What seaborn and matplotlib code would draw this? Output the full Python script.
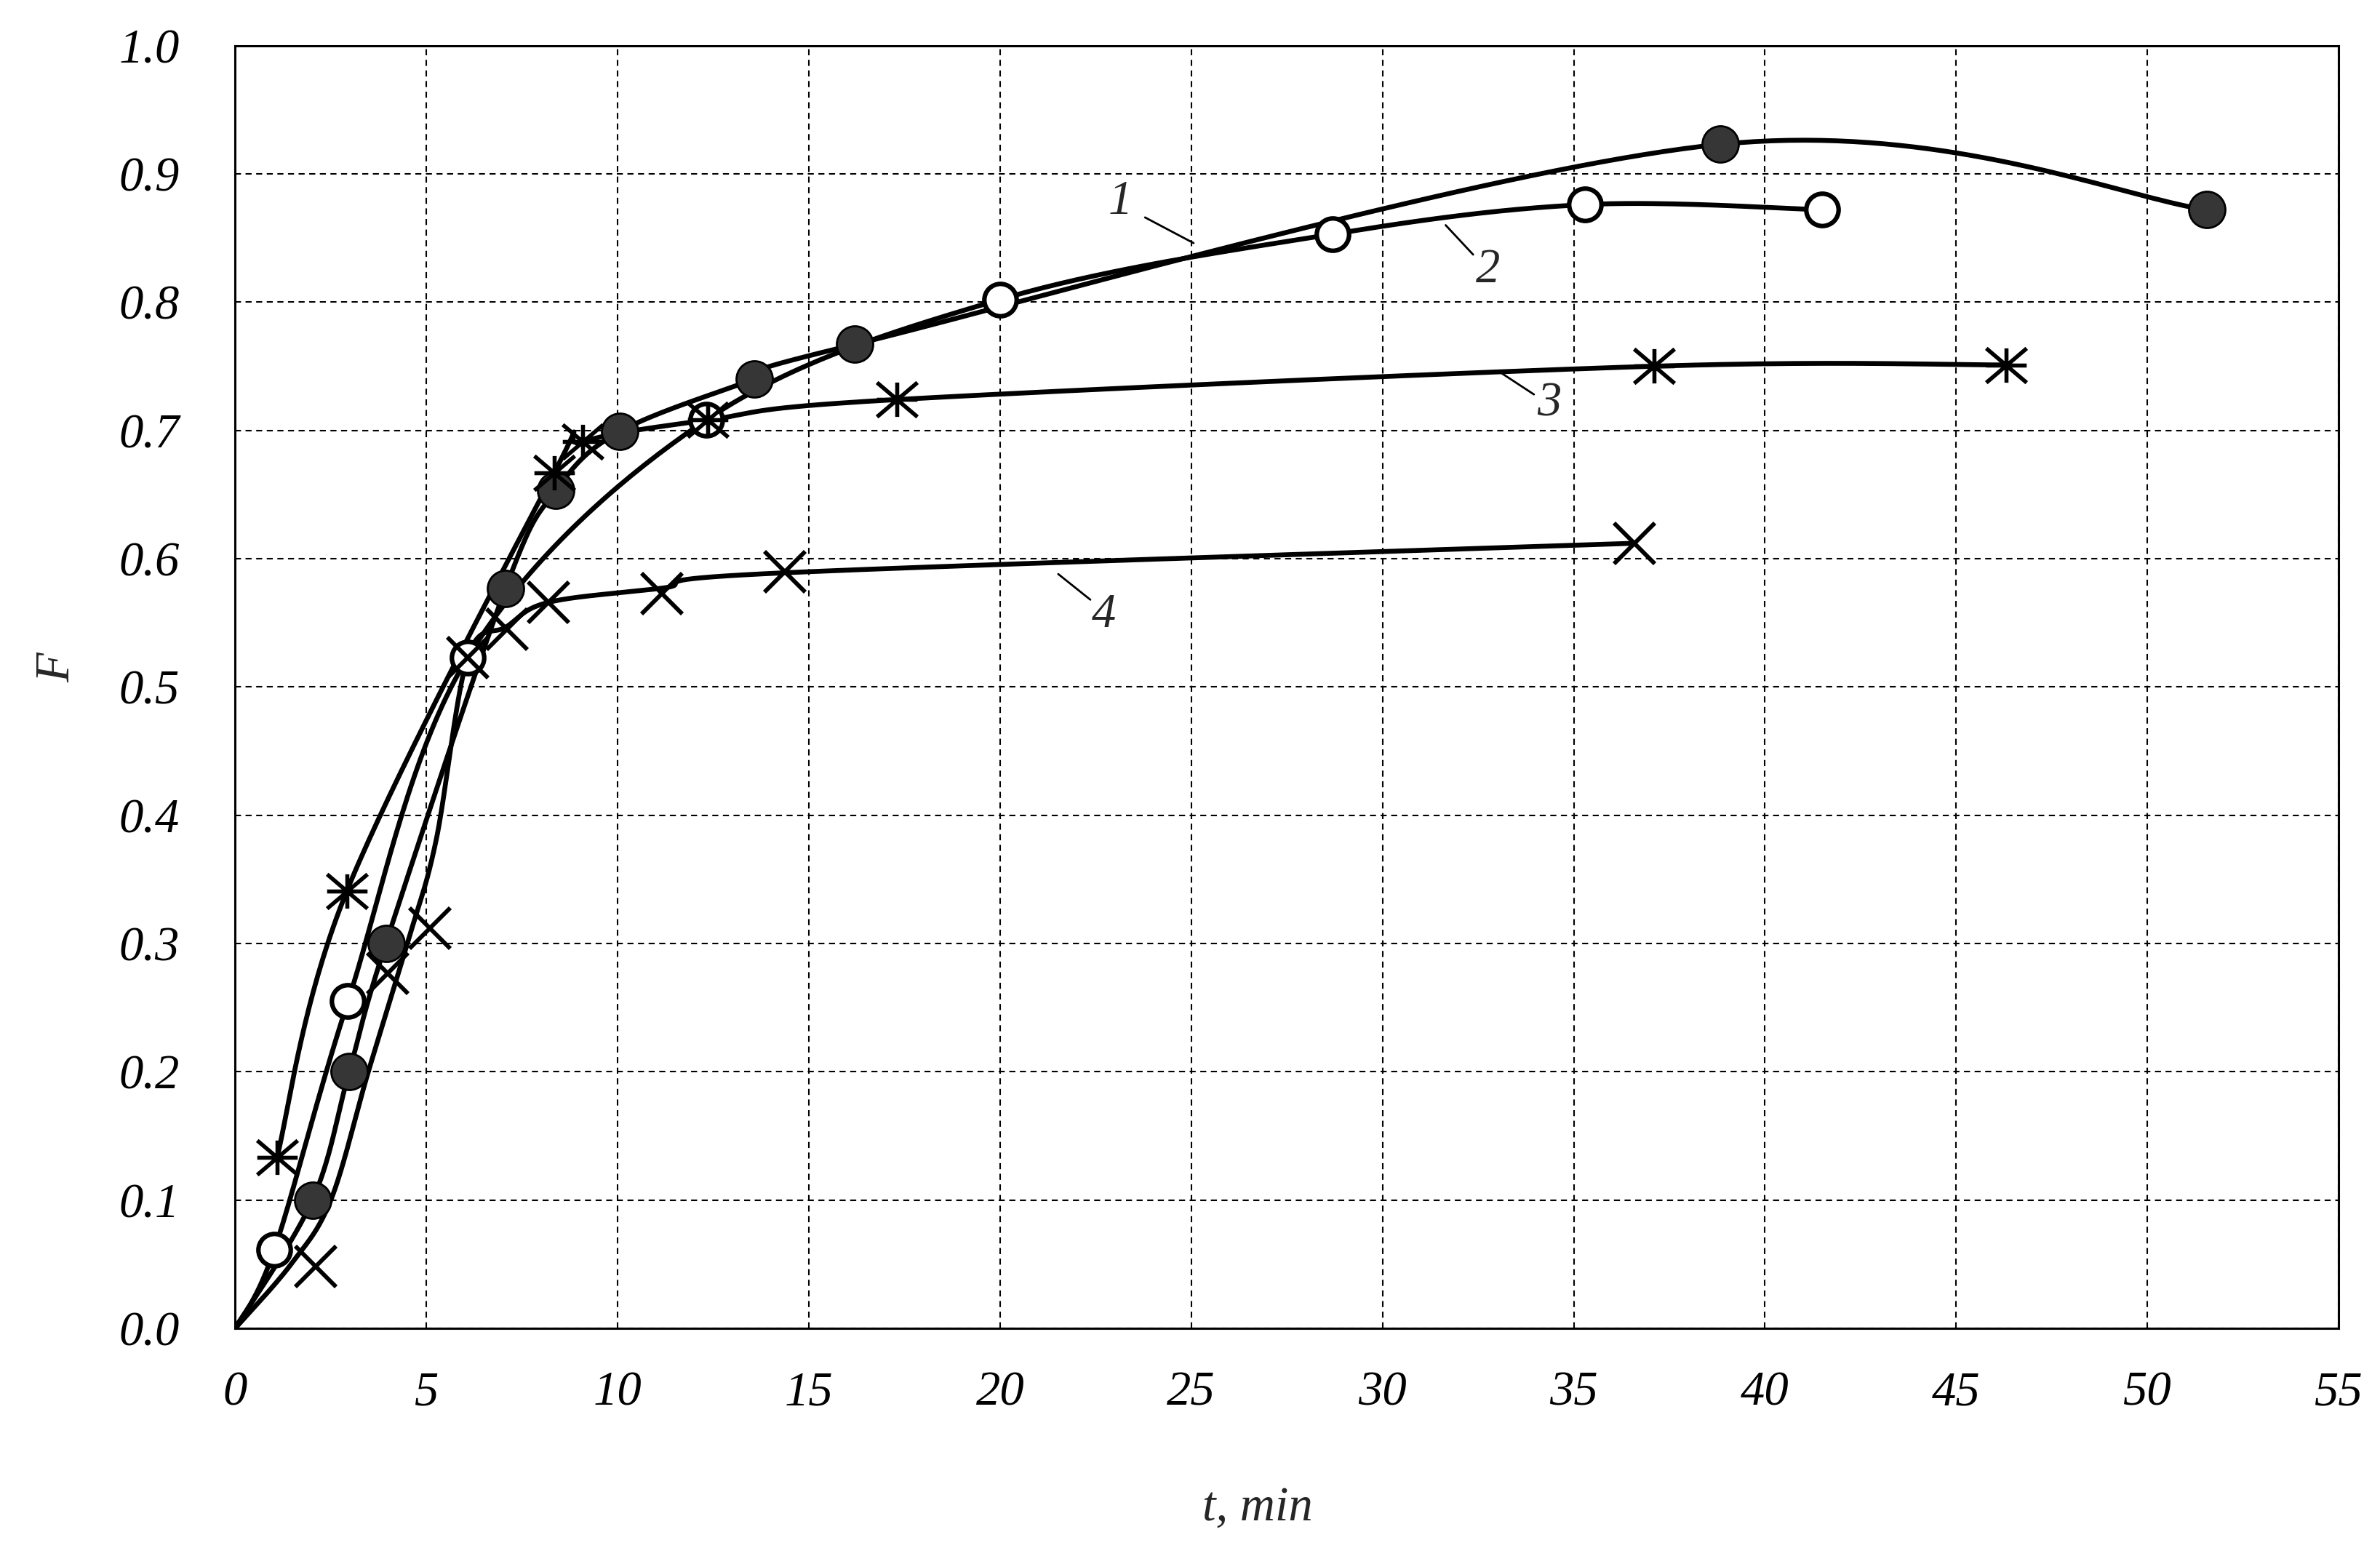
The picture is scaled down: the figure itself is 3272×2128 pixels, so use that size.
import numpy as np
import matplotlib
matplotlib.use("Agg")
import matplotlib.pyplot as plt
from matplotlib.path import Path
import seaborn as sns


# curve 1 - filled circles (line starts at the origin)
t1 = [0, 2.02, 2.98, 3.94, 7.07, 8.38, 10.05, 13.58, 16.2, 38.84, 51.55]
f1 = [0, 0.100, 0.200, 0.300, 0.577, 0.653, 0.699, 0.740, 0.767, 0.923, 0.872]

# curve 2 - open circles
t2 = [0, 1.02, 2.95, 6.08, 12.31, 20.0, 28.7, 35.3, 41.5]
f2 = [0, 0.061, 0.255, 0.523, 0.708, 0.802, 0.853, 0.876, 0.872]

# curve 3 - asterisks (line starts at the first point)
t3 = [1.09, 2.92, 8.34, 9.09, 12.35, 17.3, 37.1, 46.3]
f3 = [0.133, 0.341, 0.667, 0.691, 0.708, 0.724, 0.750, 0.751]

# curve 4 - crosses (measured points)
t4 = [2.11, 3.98, 5.09, 6.08, 7.1, 8.2, 11.16, 14.38, 36.58]
f4 = [0.048, 0.277, 0.312, 0.523, 0.545, 0.566, 0.573, 0.590, 0.612]
# curve 4 - drawn line
t4_line = [0, 1.46, 2.5, 3.48, 4.5, 5.25, 6.08, 7.1, 8.2, 11.16, 14.38, 36.58]
f4_line = [0, 0.050, 0.100, 0.200, 0.300, 0.380, 0.523, 0.547, 0.566, 0.577, 0.589, 0.612]

x_ticks = list(range(0, 60, 5))
y_ticks = [i / 10 for i in range(11)]


def smooth_line(x, y, n=40):
    # bezier smoothing through the points, the way a spreadsheet draws a smoothed line
    p = np.column_stack([x, y]).astype(float)
    out = []
    s = np.linspace(0, 1, n)[:, None]
    for i in range(len(p) - 1):
        p0 = p[max(i - 1, 0)]
        p1 = p[i]
        p2 = p[i + 1]
        p3 = p[min(i + 2, len(p) - 1)]
        c1 = p1 + (p2 - p0) / 6
        c2 = p2 - (p3 - p1) / 6
        seg = (1 - s) ** 3 * p1 + 3 * (1 - s) ** 2 * s * c1 + 3 * (1 - s) * s ** 2 * c2 + s ** 3 * p2
        out.append(seg if i == 0 else seg[1:])
    return np.vstack(out)


star_path = Path(
    [(-1, 0), (1, 0), (0, -0.85), (0, 0.85), (-1, -0.85), (1, 0.85), (-1, 0.85), (1, -0.85)],
    [Path.MOVETO, Path.LINETO] * 4,
)

sns.set_theme(style="white")
plt.rcParams['font.family'] = ['Liberation Serif', 'DejaVu Serif']
plt.rcParams['font.style'] = 'italic'

fig, ax = plt.subplots(figsize=(32.73, 21.28), dpi=100)
fig.subplots_adjust(left=0.0988, right=0.9823, bottom=0.1419, top=0.9706)

lines = [(t1, f1), (t2, f2), (t3, f3), (t4_line, f4_line)]
for t, f in lines:
    curve = smooth_line(t, f)
    sns.lineplot(x=curve[:, 0], y=curve[:, 1], sort=False, estimator=None,
                 color='black', linewidth=4.8, ax=ax, zorder=3)

markers = [
    (t1[1:], f1[1:], dict(marker='o', ms=36, mfc='#363636', mec='black', mew=2)),
    (t2[1:], f2[1:], dict(marker='o', ms=32, mfc='white', mec='black', mew=4.5)),
    (t3, f3, dict(marker=star_path, ms=40, mfc='none', mec='black', mew=4)),
    (t4, f4, dict(marker='x', ms=40, mec='black', mew=4.2)),
]
for t, f, style in markers:
    ax.plot(t, f, linestyle='none', zorder=4, **style)

# curve numbers with leader lines
labels = [
    ('1', (23.15, 0.878), [(23.79, 0.866), (25.06, 0.846)]),
    ('2', (32.76, 0.825), [(31.65, 0.860), (32.37, 0.837)]),
    ('3', (34.35, 0.721), [(33.04, 0.746), (33.96, 0.728)]),
    ('4', (22.72, 0.556), [(21.52, 0.588), (22.36, 0.568)]),
]
for txt, pos, lead in labels:
    ax.text(pos[0], pos[1], txt, fontsize=48, ha='center', va='center', zorder=5)
    ax.plot([lead[0][0], lead[1][0]], [lead[0][1], lead[1][1]], color='black', lw=2, zorder=5)

ax.set_xlim(0, 55)
ax.set_ylim(0, 1.0)
ax.set_xticks(x_ticks)
ax.set_yticks(y_ticks)
ax.set_xticklabels([str(v) for v in x_ticks])
ax.set_yticklabels([f"{v:.1f}" for v in y_ticks])
ax.tick_params(axis='both', length=0, labelsize=48, colors='black')
ax.tick_params(axis='x', pad=42)
ax.tick_params(axis='y', pad=55)

ax.grid(True, color='black', linestyle=(0, (4, 3)), linewidth=1.5)
for sp in ax.spines.values():
    sp.set_color('black')
    sp.set_linewidth(2.2)

ax.set_xlabel('t, min', fontsize=48)
ax.set_ylabel('F', fontsize=48)
ax.xaxis.set_label_coords(0.486, -0.123)
ax.yaxis.set_label_coords(-0.074, 0.515)

plt.savefig('out.png', dpi=100)
